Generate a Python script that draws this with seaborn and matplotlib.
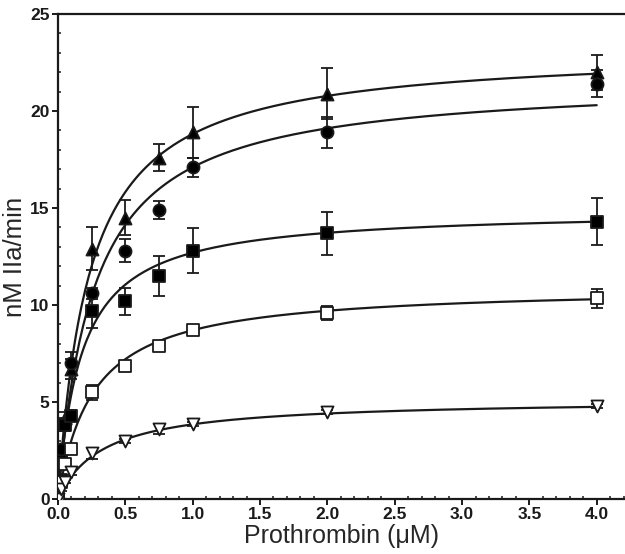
import matplotlib
matplotlib.use('Agg')
import matplotlib.pyplot as plt
import numpy as np
import pandas as pd
import seaborn as sns
from matplotlib.ticker import MultipleLocator

# prothrombin concentrations (uM)
conc = [0, 0.025, 0.05, 0.1, 0.25, 0.5, 0.75, 1.0, 2.0, 4.0]

# rates (nM IIa/min) and error bars, one list per series
tri_up = [0, 2.4, 4.2, 6.7, 12.9, 14.5, 17.6, 18.9, 20.9, 22.0]
tri_up_err = [0, 0.2, 0.3, 0.5, 1.1, 0.9, 0.7, 1.3, 1.3, 0.9]
circle = [0, 2.6, 3.9, 7.0, 10.6, 12.8, 14.9, 17.1, 18.9, 21.4]
circle_err = [0, 0.2, 0.3, 0.6, 0.3, 0.6, 0.45, 0.5, 0.8, 0.7]
sq_fill = [0, 1.0, 3.8, 4.3, 9.7, 10.2, 11.5, 12.8, 13.7, 14.3]
sq_fill_err = [0, 0.2, 0.3, 0.3, 0.9, 0.7, 1.05, 1.15, 1.1, 1.2]
sq_open = [0, 0.9, 1.8, 2.6, 5.5, 6.85, 7.9, 8.7, 9.6, 10.35]
sq_open_err = [0, 0.1, 0.1, 0.2, 0.4, 0.15, 0.15, 0.15, 0.35, 0.5]
tri_down = [0, 0.5, 0.9, 1.4, 2.35, 3.0, 3.6, 3.85, 4.5, 4.8]
tri_down_err = [0, 0.1, 0.1, 0.15, 0.3, 0.1, 0.25, 0.1, 0.1, 0.1]

# fitted Michaelis-Menten parameters (Vmax, Km)
vmax = [23.2, 21.65, 14.92, 10.97, 5.15]
km = [0.233, 0.266, 0.175, 0.261, 0.338]

series = [
    ('tri_up', tri_up, tri_up_err, '^', 'black'),
    ('circle', circle, circle_err, 'o', 'black'),
    ('sq_fill', sq_fill, sq_fill_err, 's', 'black'),
    ('sq_open', sq_open, sq_open_err, 's', 'white'),
    ('tri_down', tri_down, tri_down_err, 'v', 'white'),
]

sns.set_theme(style='ticks')
plt.rcParams['font.family'] = ['Liberation Sans', 'DejaVu Sans']

fig = plt.figure(figsize=(6.25, 5.54), dpi=100)
ax = fig.add_axes([0.0928, 0.0993, 0.9072, 0.8754])

x_fit = np.linspace(0, 4.0, 300)
for i, (name, vals, errs, marker, face) in enumerate(series):
    y_fit = vmax[i] * x_fit / (km[i] + x_fit)
    sns.lineplot(x=x_fit, y=y_fit, ax=ax, color='#1a1a1a', linewidth=1.6, zorder=2)
    ax.errorbar(conc, vals, yerr=errs, fmt='none', ecolor='#1a1a1a',
                elinewidth=1.3, capsize=4, capthick=1.3, zorder=3)
    df = pd.DataFrame({'x': conc, 'y': vals})
    sns.scatterplot(data=df, x='x', y='y', ax=ax, marker=marker, s=75,
                    facecolor=face, edgecolor='#1a1a1a', linewidth=1.3, zorder=4)

ax.set_xlim(0, 4.21)
ax.set_ylim(0, 25)
ax.xaxis.set_major_locator(MultipleLocator(0.5))
ax.xaxis.set_minor_locator(MultipleLocator(0.1))
ax.yaxis.set_major_locator(MultipleLocator(5))
ax.yaxis.set_minor_locator(MultipleLocator(1))
ax.set_xticklabels([f'{v:.1f}' for v in ax.get_xticks()])
ax.set_yticklabels([f'{int(v)}' for v in ax.get_yticks()])

ax.tick_params(axis='both', which='major', direction='out', length=4, width=1.4,
               labelsize=12.5, pad=2, colors='#1a1a1a')
ax.tick_params(axis='both', which='minor', direction='in', length=2.5, width=1.1,
               colors='#1a1a1a')
for lab in ax.get_xticklabels() + ax.get_yticklabels():
    lab.set_fontweight('bold')

for side in ['left', 'bottom', 'top']:
    ax.spines[side].set_linewidth(1.6)
    ax.spines[side].set_color('#1a1a1a')
ax.spines['right'].set_visible(False)

ax.set_xlabel('Prothrombin (μM)', fontsize=18, labelpad=1)
ax.set_ylabel('nM IIa/min', fontsize=18.5, labelpad=2)

fig.savefig('out.png', dpi=100)
